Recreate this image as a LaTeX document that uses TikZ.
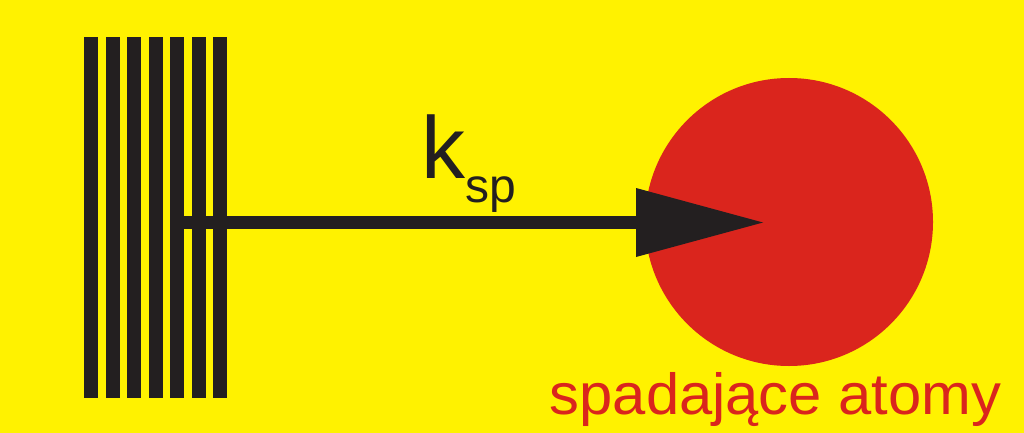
\documentclass[tikz,border=0pt]{standalone}
\usepackage{fontspec}
\setmainfont{Liberation Sans}
\usetikzlibrary{arrows.meta}
\definecolor{bgyellow}{RGB}{255,242,0}
\definecolor{atomred}{RGB}{218,37,29}
\definecolor{barblack}{RGB}{35,31,32}

\begin{document}
\begin{tikzpicture}[
            x = 1pt, y = -1pt, % pixel units, y pointing down
            > = {Triangle[length=127pt, width=69pt, line width=0pt]}, % arrow head style
            line width = 13pt % line style
        ]

        \tikzstyle{atom}=[
            circle,
            fill = atomred,
            minimum size = 288pt,
            inner sep = 0pt
        ]
        \tikzstyle{bar}=[fill = barblack]
        \tikzstyle{rate}=[
            inner sep = 0pt,
            text = barblack,
            font = \fontsize{88}{88}\selectfont
        ]
        \tikzstyle{caption}=[
            inner sep = 0pt,
            text = atomred,
            xscale = 1.03,
            font = \fontsize{58}{58}\selectfont
        ]

        % background
        \fill[bgyellow] (0,0) rectangle (1024,433);

        % grating
        \foreach \i in {0,...,6}
            \fill[bar] (84+21.5*\i, 37) rectangle ++(14, 361);

        % atom
        \node[atom] (atom) at (789,222) {};
        \node[caption, anchor=base west] (falling) at (543,414) {spadające atomy};

        % rate
        \coordinate (source) at (184,222.5);
        \coordinate (tip) at (763,222.5);
        \draw[barblack, ->] (source) -- (tip);
        \node[rate, anchor=base west] (ksp) at (415,178)
            {k\raisebox{-24pt}{\fontsize{48}{48}\selectfont sp}};

\end{tikzpicture}
\end{document}
